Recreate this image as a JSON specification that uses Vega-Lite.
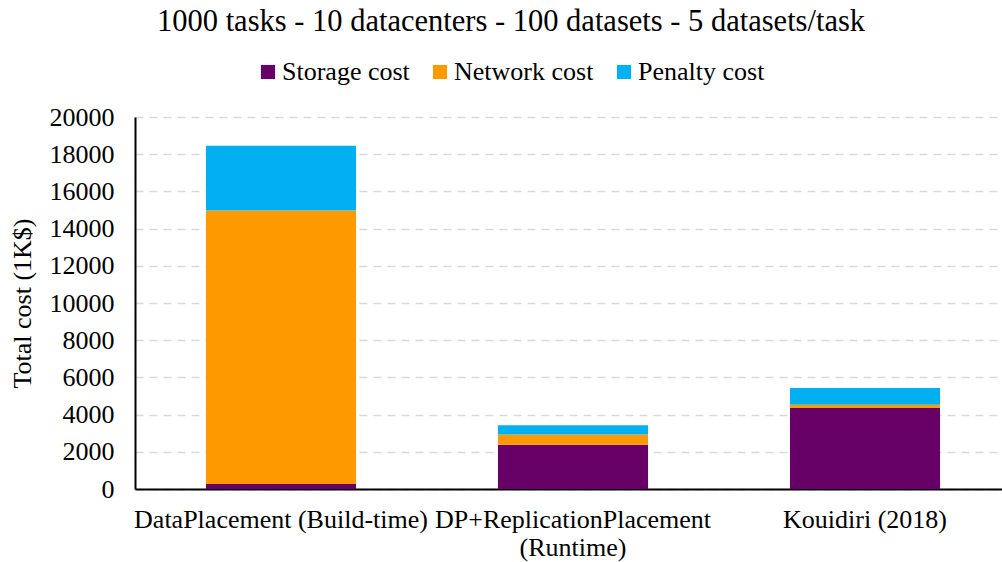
{
  "$schema": "https://vega.github.io/schema/vega-lite/v6.json",
  "autosize": {"type": "none"},
  "width": 876,
  "height": 372,
  "padding": {"left": 135, "top": 117, "right": 0, "bottom": 73},
  "background": "white",
  "title": {
    "text": "1000 tasks - 10 datacenters - 100 datasets - 5 datasets/task",
    "font": "Liberation Serif",
    "fontSize": 30.5,
    "fontWeight": "normal",
    "color": "black",
    "anchor": "start",
    "dx": 148,
    "baseline": "alphabetic",
    "offset": -2
  },
  "data": {
    "values": [
      {"method": "DataPlacement (Build-time)", "cost": "Storage cost", "ord": 1, "value": 270},
      {"method": "DataPlacement (Build-time)", "cost": "Network cost", "ord": 2, "value": 14700},
      {"method": "DataPlacement (Build-time)", "cost": "Penalty cost", "ord": 3, "value": 3480},
      {"method": "DP+ReplicationPlacement (Runtime)", "cost": "Storage cost", "ord": 1, "value": 2375},
      {"method": "DP+ReplicationPlacement (Runtime)", "cost": "Network cost", "ord": 2, "value": 560},
      {"method": "DP+ReplicationPlacement (Runtime)", "cost": "Penalty cost", "ord": 3, "value": 495},
      {"method": "Kouidiri (2018)", "cost": "Storage cost", "ord": 1, "value": 4360},
      {"method": "Kouidiri (2018)", "cost": "Network cost", "ord": 2, "value": 165},
      {"method": "Kouidiri (2018)", "cost": "Penalty cost", "ord": 3, "value": 910}
    ]
  },
  "mark": {"type": "bar"},
  "encoding": {
    "x": {
      "field": "method",
      "type": "nominal",
      "sort": null,
      "scale": {"paddingInner": 0.486, "paddingOuter": 0.243},
      "axis": {
        "title": null,
        "grid": false,
        "labelAngle": 0,
        "labelFont": "Liberation Serif",
        "labelFontSize": 26,
        "labelColor": "black",
        "labelPadding": 17,
        "labelLineHeight": 28,
        "labelLimit": 400,
        "ticks": false,
        "domainColor": "black",
        "domainWidth": 2,
        "labelExpr": "datum.label == 'DP+ReplicationPlacement (Runtime)' ? ['DP+ReplicationPlacement', '(Runtime)'] : datum.label"
      }
    },
    "y": {
      "field": "value",
      "type": "quantitative",
      "stack": "zero",
      "scale": {"domain": [0, 20000], "nice": false},
      "axis": {
        "title": "Total cost (1K$)",
        "grid": true,
        "titleFont": "Liberation Serif",
        "titleFontSize": 26,
        "titleFontWeight": "normal",
        "titleColor": "black",
        "titlePadding": 14,
        "values": [0, 2000, 4000, 6000, 8000, 10000, 12000, 14000, 16000, 18000, 20000],
        "format": "d",
        "labelFont": "Liberation Serif",
        "labelFontSize": 26,
        "labelColor": "black",
        "labelPadding": 21,
        "ticks": false,
        "domainColor": "black",
        "domainWidth": 2,
        "gridColor": "#D9D9D9",
        "gridDash": [8, 6],
        "gridWidth": 1.5
      }
    },
    "color": {
      "field": "cost",
      "type": "nominal",
      "scale": {
        "domain": ["Storage cost", "Network cost", "Penalty cost"],
        "range": ["#660066", "#FF9900", "#00B0F0"]
      },
      "legend": {
        "title": null,
        "orient": "none",
        "direction": "horizontal",
        "legendX": 120,
        "legendY": -58,
        "symbolType": "square",
        "symbolSize": 200,
        "symbolStrokeWidth": 0,
        "labelFont": "Liberation Serif",
        "labelFontSize": 26,
        "labelColor": "black",
        "labelOffset": 1,
        "columnPadding": 17
      }
    },
    "order": {"field": "ord", "type": "quantitative", "sort": "ascending"}
  },
  "config": {
    "view": {"stroke": null}
  }
}
